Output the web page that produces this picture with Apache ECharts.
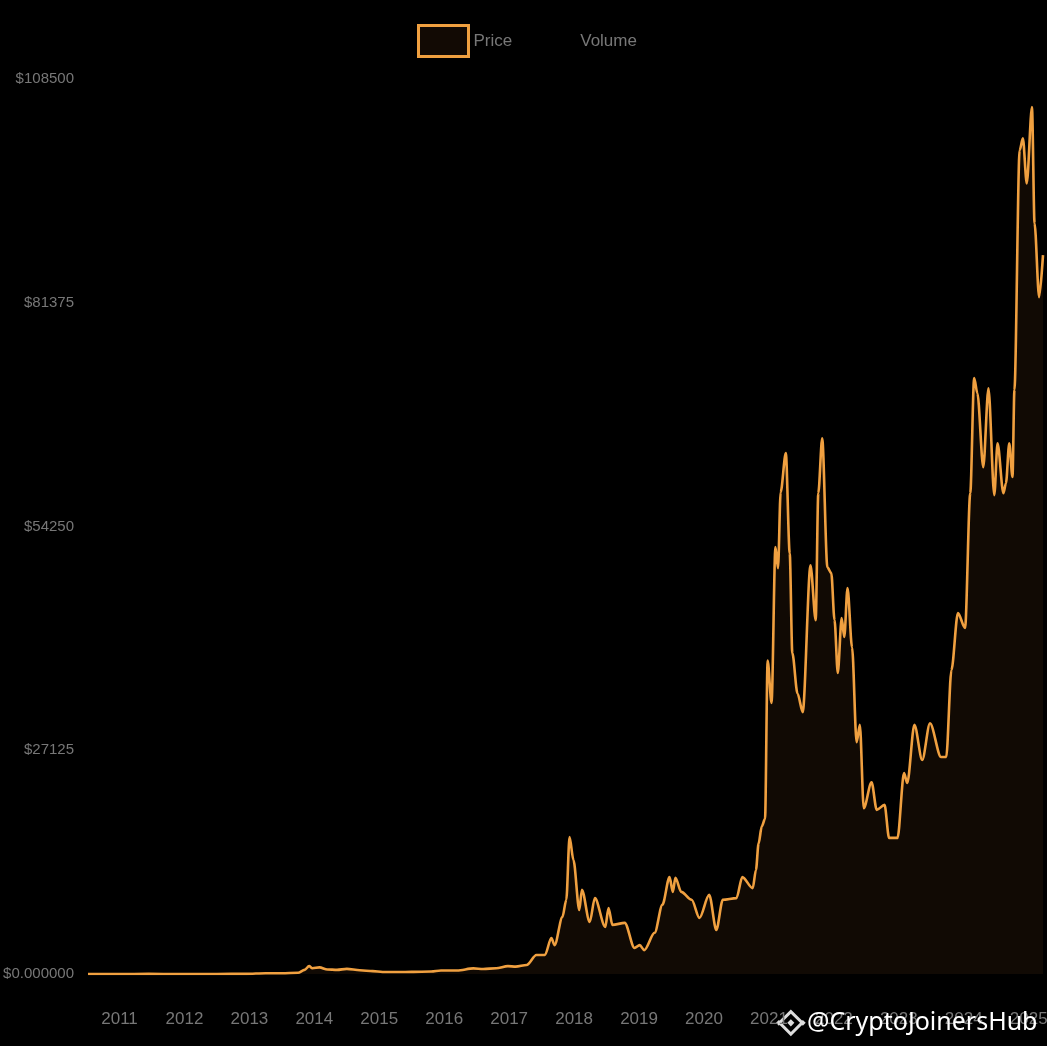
<!DOCTYPE html>
<html>
<head>
<meta charset="utf-8">
<script src="https://cdn.jsdelivr.net/npm/echarts@6/dist/echarts.min.js"></script>
<style>
html,body{margin:0;padding:0;background:#000;overflow:hidden;}
#chart{width:1047px;height:1046px;}
</style>
</head>
<body>
<div id="chart"></div>
<script>
// Decimal-year positions of sampled points
const years = [
  2010.515, 2011.0, 2011.45, 2011.9, 2012.5, 2012.95,
  2013.25, 2013.5, 2013.75, 2013.85, 2013.92, 2013.97,
  2014.08, 2014.2, 2014.35, 2014.5, 2014.7, 2014.9,
  2015.05, 2015.3, 2015.5, 2015.8, 2015.95,
  2016.2, 2016.45, 2016.6, 2016.8, 2016.98,
  2017.1, 2017.27, 2017.42, 2017.55, 2017.65, 2017.7, 2017.82, 2017.88, 2017.93, 2017.99,
  2018.08, 2018.12, 2018.24, 2018.32, 2018.48, 2018.53, 2018.59, 2018.78, 2018.93,
  2019.01, 2019.08, 2019.24, 2019.36, 2019.47, 2019.52, 2019.56, 2019.65, 2019.81, 2019.93,
  2020.08, 2020.19, 2020.29, 2020.5, 2020.59, 2020.75, 2020.8, 2020.84, 2020.89, 2020.94, 2020.98,
  2021.04, 2021.1, 2021.14, 2021.18, 2021.26, 2021.32, 2021.36, 2021.44, 2021.52, 2021.64, 2021.72, 2021.76, 2021.82, 2021.9, 2021.96,
  2022.01, 2022.06, 2022.12, 2022.16, 2022.21, 2022.28, 2022.35, 2022.4, 2022.46, 2022.58, 2022.66, 2022.78, 2022.85, 2022.98,
  2023.08, 2023.13, 2023.24, 2023.36, 2023.48, 2023.65, 2023.73, 2023.81, 2023.91,
  2024.02, 2024.1, 2024.16, 2024.21, 2024.3, 2024.38, 2024.47, 2024.52, 2024.61, 2024.65, 2024.7, 2024.75, 2024.78, 2024.86, 2024.91, 2024.97,
  2025.05, 2025.09, 2025.16, 2025.22
];
// Price (USD) at each position
const prices = [
  0.1, 1, 15, 3, 7, 13,
  100, 100, 150, 500, 950, 700,
  800, 550, 500, 620, 450, 350,
  250, 240, 260, 300, 420,
  420, 680, 600, 700, 950,
  900, 1100, 2300, 2300, 4360, 3500, 6900, 9000, 16600, 13800,
  7750, 10200, 6300, 9200, 5700, 8000, 5950, 6200, 3150,
  3500, 2900, 5000, 8400, 11750, 9950, 11650, 9950, 9000, 6800,
  9600, 5350, 9000, 9200, 11750, 10400, 12600, 15800, 17900, 18800, 38000,
  32850, 51750, 49200, 58400, 63150, 51000, 38900, 34000, 31750, 49550, 42900, 58300, 64950, 49300, 48600,
  42900, 36500, 43150, 40850, 46800, 39600, 28100, 30200, 20100, 23250, 19900, 20500, 16500, 16500,
  24350, 23150, 30200, 25950, 30400, 26300, 26300, 36850, 43750,
  41950, 58300, 72250, 70400, 61450, 71000, 58050, 64350, 58300, 59500, 64350, 60250, 70800, 99850, 101300, 95850,
  105100, 91000, 82050, 87150
];
const yearTicks = [2011, 2012, 2013, 2014, 2015, 2016, 2017, 2018, 2019, 2020, 2021, 2022, 2023, 2024, 2025];
const priceTicks = [0, 27125, 54250, 81375, 108500];
const legendNames = ['Price', 'Volume'];

const priceData = years.map((y, i) => [y, prices[i]]);
const sans = "'Liberation Sans', Arial, sans-serif";
const grey = '#777777';
const orange = '#f0a040';

const chart = echarts.init(document.getElementById('chart'));
chart.setOption({
  backgroundColor: '#000000',
  animation: false,
  legend: {
    left: 412,
    top: 19,
    icon: 'rect',
    itemWidth: 50,
    itemHeight: 31,
    itemGap: 13,
    textStyle: { color: grey, fontSize: 17, fontFamily: sans },
    data: [
      { name: legendNames[0], itemStyle: { color: '#120a04', borderColor: orange, borderWidth: 3 } },
      { name: legendNames[1], itemStyle: { color: '#000000', borderWidth: 0 } }
    ]
  },
  grid: { left: 88, right: 4, top: 79, bottom: 72, containLabel: false, outerBoundsMode: 'none' },
  xAxis: {
    type: 'value',
    min: 2010.515,
    max: 2025.22,
    axisLine: { show: false },
    axisTick: { show: false },
    splitLine: { show: false },
    axisLabel: {
      customValues: yearTicks,
      formatter: v => String(Math.round(v)),
      color: grey,
      fontSize: 17,
      fontFamily: sans,
      margin: 37,
      hideOverlap: false
    }
  },
  yAxis: {
    type: 'value',
    min: priceTicks[0],
    max: priceTicks[priceTicks.length - 1],
    interval: priceTicks[1] - priceTicks[0],
    axisLine: { show: false },
    axisTick: { show: false },
    splitLine: { show: false },
    axisLabel: {
      formatter: v => v === 0 ? '$0.000000' : '$' + v,
      color: grey,
      fontSize: 15,
      fontFamily: sans,
      margin: 14
    }
  },
  series: [
    {
      name: legendNames[0],
      type: 'line',
      data: priceData,
      showSymbol: false,
      smooth: 0.3,
      smoothMonotone: 'x',
      lineStyle: { color: orange, width: 2.6 },
      itemStyle: { color: orange },
      areaStyle: { color: '#110a04', opacity: 1 },
      z: 2
    },
    {
      name: legendNames[1],
      type: 'bar',
      data: [],
      itemStyle: { color: '#000000' }
    }
  ],
  graphic: [
    {
      type: 'group',
      left: 776,
      top: 1008,
      z: 100,
      children: [
        { type: 'rect', shape: { x: -8, y: -8, width: 16, height: 16 }, rotation: Math.PI / 4, x: 13, y: 13,
          style: { fill: 'none', stroke: '#dddddd', lineWidth: 3 } },
        { type: 'rect', shape: { x: -2.5, y: -2.5, width: 5, height: 5 }, rotation: Math.PI / 4, x: 13, y: 13,
          style: { fill: '#dddddd' } },
        { type: 'rect', shape: { x: -2, y: -2, width: 4, height: 4 }, rotation: Math.PI / 4, x: 1, y: 13,
          style: { fill: '#dddddd' } },
        { type: 'rect', shape: { x: -2, y: -2, width: 4, height: 4 }, rotation: Math.PI / 4, x: 25, y: 13,
          style: { fill: '#dddddd' } }
      ]
    },
    {
      type: 'text',
      left: 807,
      top: 1010,
      z: 100,
      style: {
        text: '@CryptoJoinersHub',
        fill: '#ffffff',
        font: "25px 'Noto Sans', sans-serif",
        shadowColor: 'rgba(0,0,0,0.6)',
        shadowBlur: 3
      }
    }
  ]
});
</script>
</body>
</html>
